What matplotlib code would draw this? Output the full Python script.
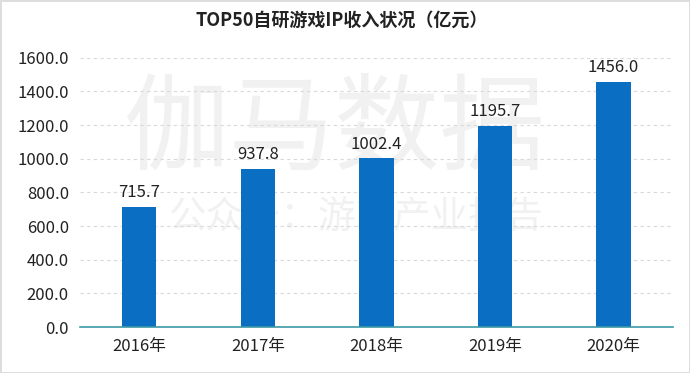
import matplotlib
matplotlib.use("Agg")
import matplotlib.pyplot as plt

plt.rcParams['font.family'] = ['Noto Sans CJK SC', 'DejaVu Sans']

years = ['2016年', '2017年', '2018年', '2019年', '2020年']
revenue = [715.7, 937.8, 1002.4, 1195.7, 1456.0]
title = 'TOP50自研游戏IP收入状况（亿元）'

fig = plt.figure(figsize=(6.9, 3.73), dpi=100)
fig.patch.set_edgecolor('#dddddd')
fig.patch.set_linewidth(2)
ax = fig.add_axes([0.116, 0.123, 0.859, 0.722])
ax.set_facecolor('none')

# watermark, behind everything
fig.text(0.485, 0.65, '伽马数据', fontsize=76, color='#f1f1f1', ha='center', va='center',
         zorder=-5)
fig.text(0.515, 0.415, '公众号：游戏产业报告', fontsize=27, color='#f1f1f1', ha='center',
         va='center', zorder=-5)

x = range(len(years))
ax.bar(x, revenue, width=0.29, color='#0a6fc2', zorder=3)
for xi, v in zip(x, revenue):
    ax.text(xi, v + 35, f'{v:.1f}', ha='center', va='bottom', fontsize=12, color='#222222')

ax.set_xlim(-0.5, len(years) - 0.5)
ax.set_ylim(0, 1600)
ax.set_yticks(range(0, 1601, 200))
ax.set_yticklabels([f'{t:.1f}' for t in range(0, 1601, 200)])
ax.set_xticks(list(x))
ax.set_xticklabels(years)
ax.tick_params(axis='both', length=0, labelsize=12, colors='#222222')
ax.tick_params(axis='x', pad=8)
ax.tick_params(axis='y', pad=8)
ax.yaxis.grid(True, linestyle=(0, (3, 3)), color='#d9d9d9', linewidth=0.8, zorder=0)

for side in ['top', 'right', 'left']:
    ax.spines[side].set_visible(False)
ax.spines['bottom'].set_color('#3c9aa6')
ax.spines['bottom'].set_linewidth(1.2)
ax.spines['bottom'].set_zorder(4)

fig.text(0.495, 0.945, title, fontsize=13, fontweight='bold', ha='center', va='center',
         color='#222222')

fig.savefig('out.png', dpi=100)
